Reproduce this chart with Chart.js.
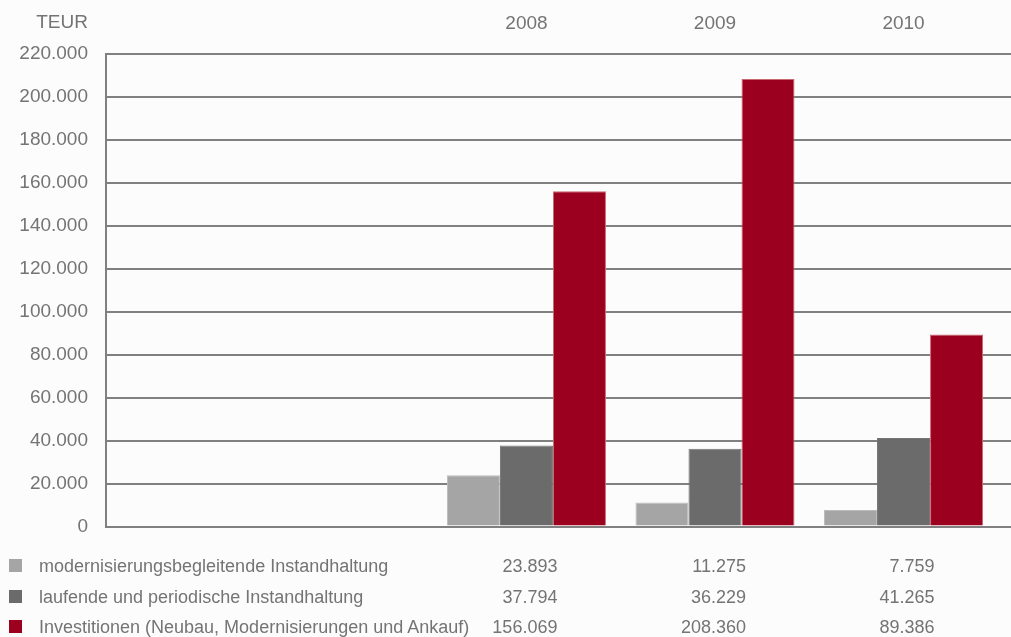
<!DOCTYPE html>
<html>
<head>
<meta charset="utf-8">
<script src="https://cdn.jsdelivr.net/npm/chart.js@4.4.1/dist/chart.umd.min.js"></script>
<style>
  html, body { margin: 0; padding: 0; background: #fcfcfc; }
  #wrap { position: relative; width: 1011px; height: 637px; overflow: hidden; font-family: "Liberation Sans", Arial, sans-serif; color: #747474; }
  #c { position: absolute; left: 0; top: 0; }
  .unit { position: absolute; right: calc(1011px - 88px); top: 11px; font-family: "Liberation Sans Narrow", "Liberation Sans", Arial, sans-serif; font-size: 19px; line-height: 22px; }
  .row { position: absolute; left: 0; height: 24px; width: 1011px; font-size: 18px; line-height: 24px; }
  .sw { position: absolute; left: 9px; top: 5px; width: 13px; height: 13px; }
  .lbl { position: absolute; left: 39px; top: 0; white-space: nowrap; }
  .val { position: absolute; width: 160px; text-align: right; top: 0; white-space: nowrap; }
</style>
</head>
<body>
<div id="wrap">
  <canvas id="c" width="1011" height="556"></canvas>
  <div class="unit" id="unit"></div>
</div>
<script>
// ---- data ----
const unitLabel = 'TEUR';
const years = [2008, 2009, 2010];
const seriesNames = [
  'modernisierungsbegleitende Instandhaltung',
  'laufende und periodische Instandhaltung',
  'Investitionen (Neubau, Modernisierungen und Ankauf)'
];
const modernisierung = [23893, 11275, 7759];
const laufend = [37794, 36229, 41265];
const investitionen = [156069, 208360, 89386];
const yTicks = [0, 20000, 40000, 60000, 80000, 100000, 120000, 140000, 160000, 180000, 200000, 220000];

// ---- style ----
const fills = ['#a5a5a5', '#6b6b6b', '#9c001f'];
const borders = ['#bcbcbc', '#747474', '#c9686f'];
const textColor = '#747474';
const gridColor = '#808080';

const fmt = v => String(Math.round(v)).replace(/\B(?=(\d{3})+(?!\d))/g, '.');

document.getElementById('unit').textContent = unitLabel;

const seriesValues = [modernisierung, laufend, investitionen];
const datasets = seriesValues.map((vals, i) => ({
  label: seriesNames[i],
  data: years.map((yr, k) => ({ x: yr, y: vals[k] })),
  backgroundColor: fills[i],
  borderColor: borders[i],
  borderWidth: 1,
  categoryPercentage: 0.8435,
  barPercentage: 1.0
}));

Chart.defaults.font.family = '"Liberation Sans", Arial, sans-serif';
Chart.defaults.color = textColor;

const chart = new Chart(document.getElementById('c'), {
  type: 'bar',
  data: { datasets },
  options: {
    responsive: false,
    animation: false,
    layout: { padding: { top: 0, right: 0, bottom: 9, left: 0 } },
    plugins: { legend: { display: false }, tooltip: { enabled: false } },
    scales: {
      x: {
        type: 'linear',
        position: 'top',
        offset: false,
        min: 2005.77,
        max: 2010.57,
        afterBuildTicks: (s) => { s.ticks = years.map(v => ({ value: v })); },
        afterFit: (s) => { s.height = 54; },
        grid: { display: false, drawTicks: false },
        border: { display: false },
        ticks: {
          padding: 19,
          font: { size: 19 },
          color: textColor,
          maxRotation: 0,
          autoSkip: false,
          callback: (v) => String(v)
        }
      },
      y: {
        min: 0,
        max: 220000,
        afterBuildTicks: (s) => { s.ticks = yTicks.map(v => ({ value: v })); },
        afterFit: (s) => { s.width = 106; },
        grid: { color: gridColor, lineWidth: 2, drawTicks: false },
        border: { display: true, color: gridColor, width: 2 },
        ticks: {
          padding: 18,
          font: { size: 19 },
          color: textColor,
          callback: (v) => fmt(v)
        }
      }
    }
  }
});

// ---- table below the chart (legend + values), positioned via the chart's x scale ----
const wrap = document.getElementById('wrap');
const rowTops = [554, 585, 615];
const xs = chart.scales.x;
seriesNames.forEach((name, i) => {
  const row = document.createElement('div');
  row.className = 'row';
  row.style.top = rowTops[i] + 'px';
  const sw = document.createElement('div');
  sw.className = 'sw';
  sw.style.background = fills[i];
  row.appendChild(sw);
  const lbl = document.createElement('div');
  lbl.className = 'lbl';
  lbl.textContent = name;
  row.appendChild(lbl);
  years.forEach((yr, k) => {
    const v = document.createElement('div');
    v.className = 'val';
    const right = xs.getPixelForValue(yr) + 31;
    v.style.left = (right - 160) + 'px';
    v.textContent = fmt(seriesValues[i][k]);
    row.appendChild(v);
  });
  wrap.appendChild(row);
});
</script>
</body>
</html>
